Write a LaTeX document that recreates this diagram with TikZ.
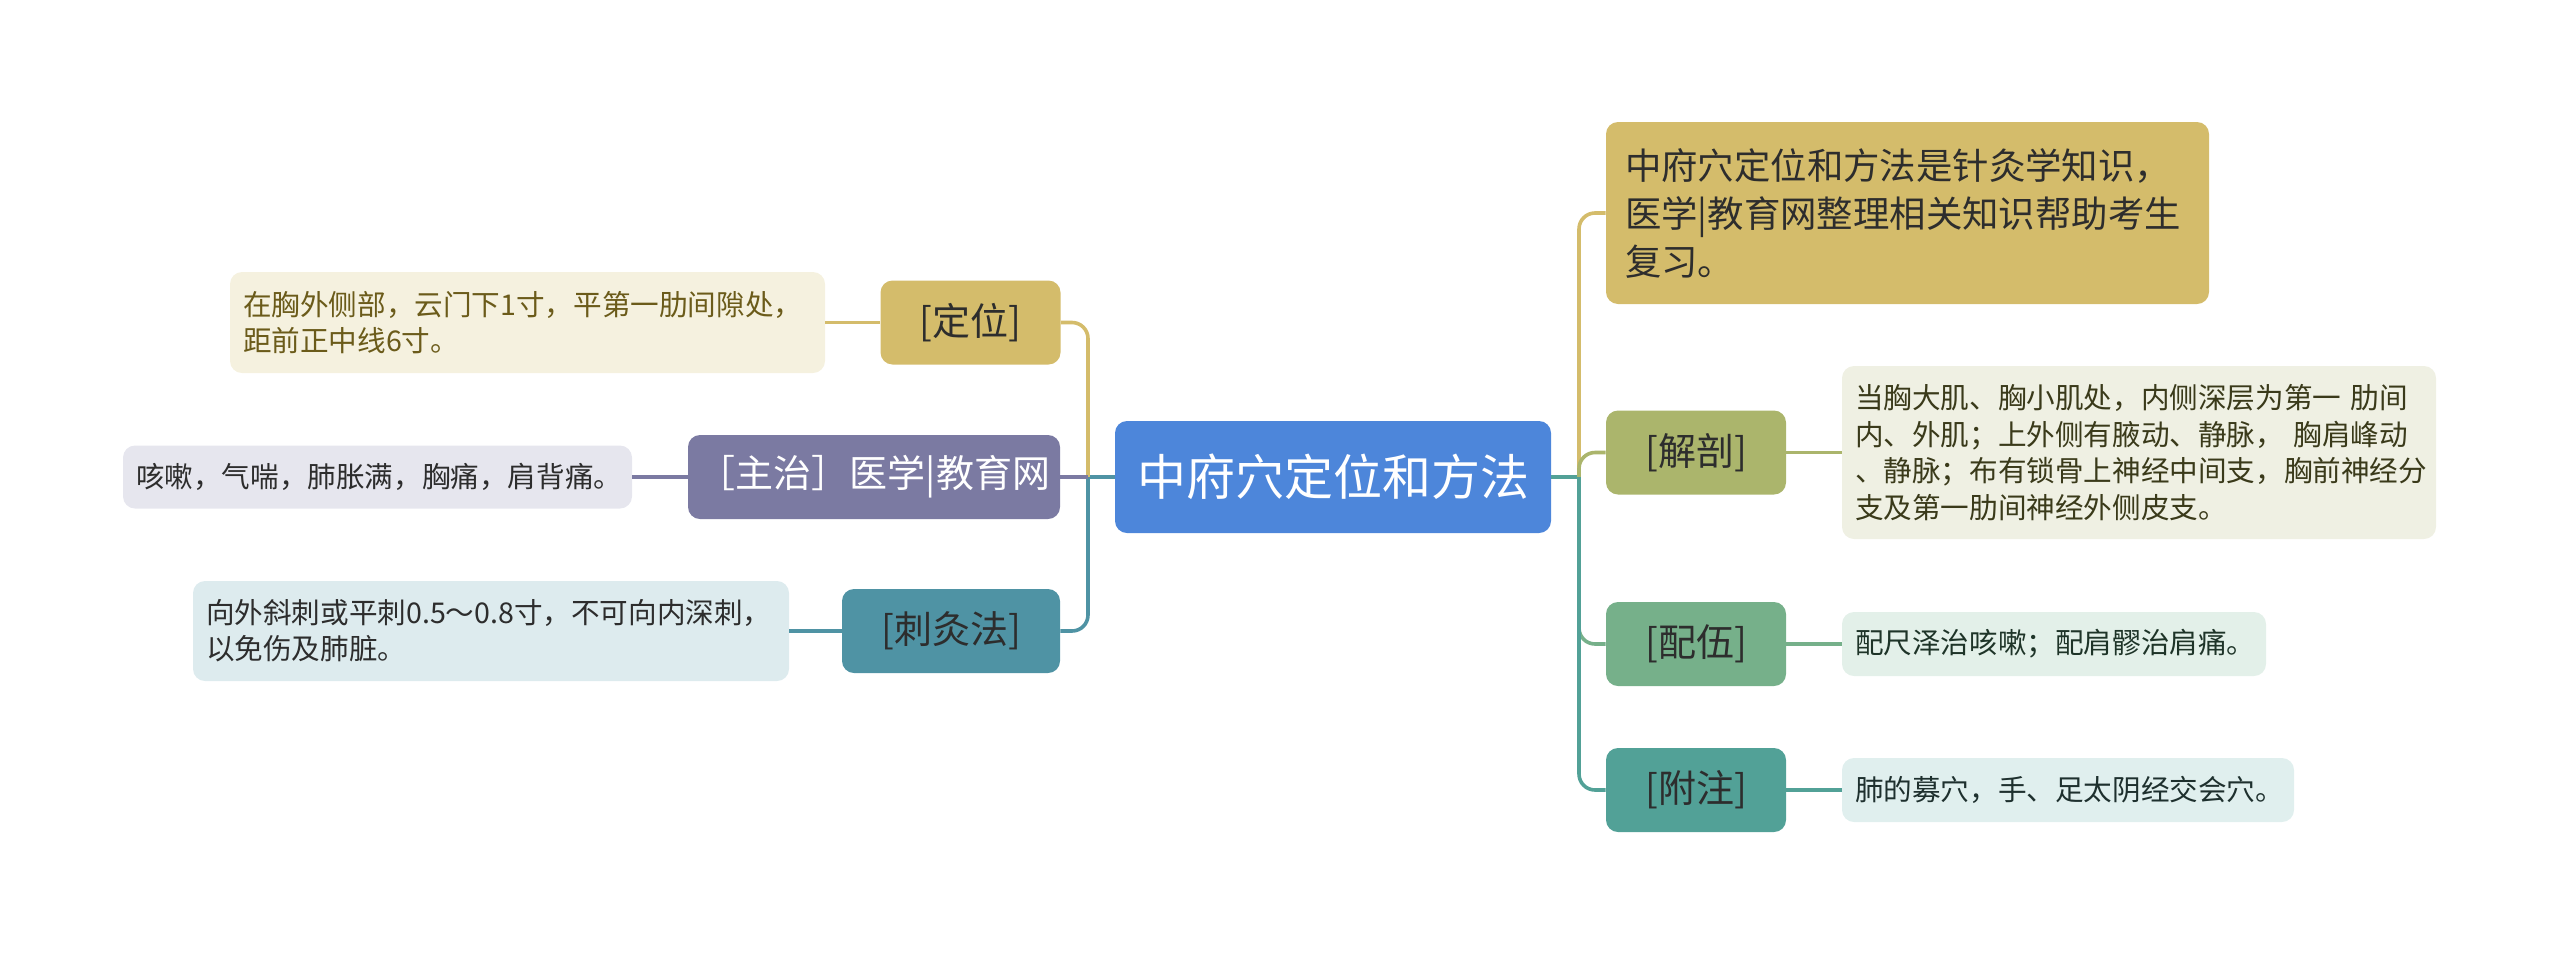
\documentclass[tikz,border=0pt]{standalone}
\usepackage{fontspec}
\newfontfamily\cjk{Noto Sans CJK SC}
\definecolor{rootblue}{HTML}{4D86DA}
\definecolor{gold}{HTML}{D4BC6B}
\definecolor{lilac}{HTML}{7B7AA2}
\definecolor{cjteal}{HTML}{4F93A4}
\definecolor{olive}{HTML}{ABB56C}
\definecolor{sage}{HTML}{76B08A}
\definecolor{fzteal}{HTML}{52A197}
\definecolor{dwfill}{HTML}{F5F1DF}
\definecolor{zzfill}{HTML}{E6E6EE}
\definecolor{cjfill}{HTML}{DDEBEE}
\definecolor{jpfill}{HTML}{EFF0E3}
\definecolor{pwfill}{HTML}{E3F0E9}
\definecolor{fzfill}{HTML}{E0EFEE}
\definecolor{boxtext}{HTML}{2D2D2D}
\begin{document}
\begin{tikzpicture}
    [x=0.5pt,y=-0.5pt,
     every node/.style={rounded corners=6pt, inner sep=0pt, align=center},
     topic/.style={fill=#1, text=boxtext, minimum width=90pt, minimum height=42pt,
                   font=\cjk\fontsize{19}{22}\selectfont},
     leaf/.style={fill=#1, text=boxtext, align=left, inner xsep=6.5pt,
                  font=\cjk\fontsize{14.3}{18}\selectfont},
     link/.style={line width=1.8pt, rounded corners=8pt}]
    \useasboundingbox (0,0) rectangle (2560,954);

    % centre
    \node[fill=rootblue, text=white, minimum width=218pt, minimum height=56pt,
          font=\cjk\fontsize{24.5}{28}\selectfont] (root) at (1333,477) {中府穴定位和方法};
    \coordinate (ltrunk) at (1088,477);
    \coordinate (rtrunk) at (1579,477);

    % left branches
    \node[topic=gold] (dingwei) at (970.5,322.5) {[定位]};
    \node[topic=lilac, text=white, minimum width=186pt] (zhuzhi) at (874,477) {［主治］医学|教育网};
    \node[topic=cjteal, minimum width=109pt] (cijiu) at (951,631) {[刺灸法]};

    \node[leaf=dwfill, text={rgb,255:red,107;green,91;blue,26}, text width=284.5pt, minimum height=50.5pt]
        (dwleaf) at (527.5,322.5) {在胸外侧部，云门下1寸，平第一肋间隙处，\\距前正中线6寸。};
    \node[leaf=zzfill, text width=241.5pt, minimum height=31.5pt]
        (zzleaf) at (377.5,477) {咳嗽，气喘，肺胀满，胸痛，肩背痛。};
    \node[leaf=cjfill, text width=285pt, minimum height=50pt]
        (cjleaf) at (491,631) {向外斜刺或平刺0.5～0.8寸，不可向内深刺，\\以免伤及肺脏。};

    % right branches
    \node[topic=gold, align=left, text width=282.5pt, inner xsep=9.5pt, minimum height=91pt,
          font=\cjk\fontsize{18.2}{24}\selectfont] (note) at (1907.5,213)
        {中府穴定位和方法是针灸学知识，\\医学|教育网整理相关知识帮助考生\\复习。};
    \node[topic=olive] (jiepou) at (1696,452.5) {[解剖]};
    \node[topic=sage] (peiwu) at (1696,644) {[配伍]};
    \node[topic=fzteal] (fuzhu) at (1696,790) {[附注]};

    \node[leaf=jpfill, text={rgb,255:red,58;green,58;blue,26}, text width=284pt, minimum height=86.5pt,
          font=\cjk\fontsize{14.3}{18.3}\selectfont]
        (jpleaf) at (2139,452.5) {当胸大肌、胸小肌处，内侧深层为第一 肋间\\内、外肌；上外侧有腋动、静脉，\ 胸肩峰动\\、静脉；布有锁骨上神经中间支，胸前神经分\\支及第一肋间神经外侧皮支。};
    \node[leaf=pwfill, text={rgb,255:red,30;green,52;blue,40}, text width=199pt, minimum height=32pt]
        (pwleaf) at (2054,644) {配尺泽治咳嗽；配肩髎治肩痛。};
    \node[leaf=fzfill, text={rgb,255:red,30;green,48;blue,46}, text width=213pt, minimum height=32pt]
        (fzleaf) at (2068,790) {肺的募穴，手、足太阴经交会穴。};

    % connectors
    \draw[link, cjteal] (root.west) -- (ltrunk);
    \draw[link, gold] (ltrunk) |- (dingwei.east);
    \draw[link, cjteal] (ltrunk) |- (cijiu.east);
    \draw[link, lilac] (ltrunk) -- (zhuzhi.east);
    \draw[link, fzteal] (root.east) -- (rtrunk);
    \foreach \to/\col in {note/gold, jiepou/olive, peiwu/sage, fuzhu/fzteal}
      \draw[link, \col] (rtrunk) |- (\to.west);

    \foreach \from/\to/\col in {dingwei/dwleaf/gold, zhuzhi/zzleaf/lilac, cijiu/cjleaf/cjteal,
                                jiepou/jpleaf/olive, peiwu/pwleaf/sage, fuzhu/fzleaf/fzteal}
      \draw[link, \col] (\from) -- (\to);
\end{tikzpicture}
\end{document}
